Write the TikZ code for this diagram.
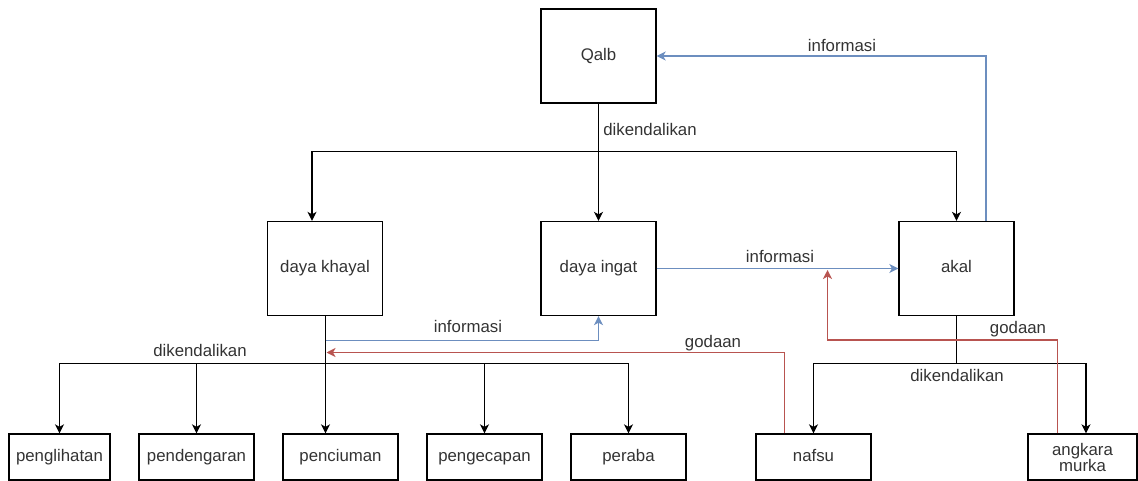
\documentclass[tikz,border=0pt]{standalone}
\usepackage{fontspec}
\setmainfont{Liberation Sans}
\usetikzlibrary{arrows.meta}
\definecolor{infoblue}{HTML}{6C8EBF}
\definecolor{godared}{HTML}{B85450}
\definecolor{txt}{HTML}{333333}

\begin{document}
\begin{tikzpicture}[x=1pt,y=-1pt,line width=1.3pt,
    font=\fontsize{16.8}{19}\selectfont,text=txt,
    lbl/.style={text height=12pt,text depth=3.5pt},
    box/.style={draw=black,line width=1.3pt,minimum width=115pt,minimum height=94pt,inner sep=0pt,align=center},
    sense/.style={box,minimum height=46pt},
    tip/.style={-{Stealth[length=9pt,width=9pt,inset=2.5pt]}},
    info/.style={tip,draw=infoblue,line width=1.5pt},
    goda/.style={tip,draw=godared,line width=1.5pt}]
    \useasboundingbox (0,0) rectangle (1138,481);

    \node[box,lbl](qalb) at (598.5,56) {Qalb};
    \node[box,lbl](khayal) at (325,268.5) {daya khayal};
    \node[box,lbl](ingat) at (598.5,268.5) {daya ingat};
    \node[box,lbl](akal) at (956.5,268.5) {akal};

    \node[sense,lbl,minimum width=101pt](lihat) at (59.5,457) {penglihatan};
    \node[sense,lbl](dengar) at (196.5,457) {pendengaran};
    \node[sense,lbl](cium) at (340.5,457) {penciuman};
    \node[sense,lbl](kecap) at (484.5,457) {pengecapan};
    \node[sense,lbl](raba) at (628.5,457) {peraba};
    \node[sense,lbl](nafsu) at (813.5,457) {nafsu};
    \node[sense,minimum width=109pt,font=\fontsize{16.8}{16}\selectfont](murka) at (1082.5,457) {angkara\\murka};

    \coordinate(qj) at (598.5,151.5);
    \coordinate(kj) at (325.5,363.5);
    \coordinate(aj) at (956.5,363.5);
    \coordinate(kinfo) at (325.5,340.5);
    \coordinate(kgoda) at (326.5,352.5);
    \coordinate(agoda) at (827.5,270);

    % dikendalikan
    \draw[tip] (qalb) -- (ingat);
    \draw[tip] (qj) -| ([xshift=-13pt]khayal.north);
    \draw[tip] (qj) -| (akal.north);
    \draw[tip] (kj |- khayal.south) -- (kj |- cium.north);
    \foreach \s in {lihat,dengar,kecap,raba}
      \draw[tip] (kj) -| (\s.north);
    \draw (akal.south) -- (aj);
    \draw[tip] (aj) -| (nafsu.north);
    \draw[tip] (aj) -| ([xshift=3.5pt]murka.north);

    % informasi
    \draw[info] (kinfo) -| (ingat.south);
    \draw[info] (ingat) -- (akal);
    \draw[info] ([xshift=29.5pt]akal.north) |- (qalb.east);

    % godaan
    \draw[goda] ([xshift=-29pt]nafsu.north) |- (kgoda);
    \draw[goda] ([xshift=-25pt]murka.north) -- ++(0,-93.5) -| (agoda);

    \node[lbl](d1) at (650,131) {dikendalikan};
    \node[lbl](d2) at (200,352) {dikendalikan};
    \node[lbl](d3) at (957,377) {dikendalikan};
    \node[lbl](i1) at (842,47) {informasi};
    \node[lbl](i2) at (780,258) {informasi};
    \node[lbl](i3) at (468,328) {informasi};
    \node[lbl](g1) at (713,343) {godaan};
    \node[lbl](g2) at (1018,329) {godaan};
\end{tikzpicture}
\end{document}
